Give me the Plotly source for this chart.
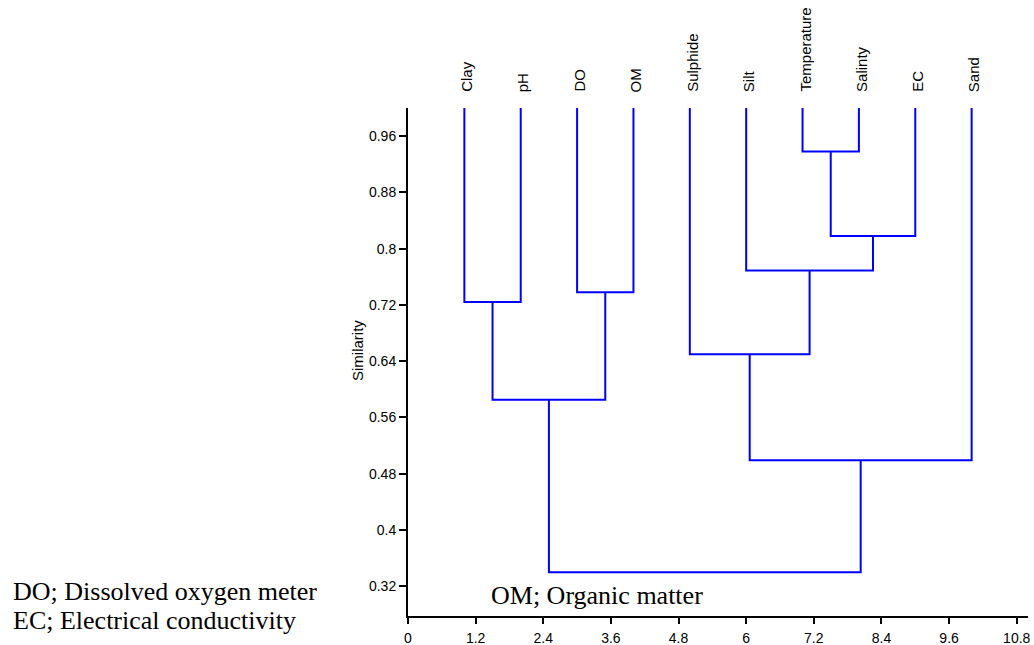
import plotly.graph_objects as go

# Variables (leaves of the dendrogram, left to right)
leaf_names = ["Clay", "pH", "DO", "OM", "Sulphide", "Silt",
              "Temperature", "Salinty", "EC", "Sand"]
leaf_pos = [1, 2, 3, 4, 5, 6, 7, 8, 9, 10]
leaf_top = 1.0

# Agglomeration steps: (left node, right node, similarity at join)
# node ids 0..9 are leaves, new clusters get ids 10, 11, ...
merges = [
    (6, 7, 0.938),    # 10: Temperature + Salinty
    (0, 1, 0.724),    # 11: Clay + pH
    (2, 3, 0.738),    # 12: DO + OM
    (10, 8, 0.818),   # 13: (Temp, Sal) + EC
    (5, 13, 0.769),   # 14: Silt + 13
    (4, 14, 0.650),   # 15: Sulphide + 14
    (11, 12, 0.585),  # 16: 11 + 12
    (15, 9, 0.499),   # 17: 15 + Sand
    (16, 17, 0.340),  # 18: root
]

x_ticks = [0, 1.2, 2.4, 3.6, 4.8, 6, 7.2, 8.4, 9.6, 10.8]
x_labels = ["0", "1.2", "2.4", "3.6", "4.8", "6", "7.2", "8.4", "9.6", "10.8"]
y_ticks = [0.32, 0.40, 0.48, 0.56, 0.64, 0.72, 0.80, 0.88, 0.96]
y_labels = ["0.32", "0.4", "0.48", "0.56", "0.64", "0.72", "0.8", "0.88", "0.96"]

# node coordinates: x = mean of children x, y = join similarity
node_x = list(leaf_pos)
node_y = [leaf_top] * len(leaf_pos)
xs, ys = [], []
for a, b, h in merges:
    xa, ya = node_x[a], node_y[a]
    xb, yb = node_x[b], node_y[b]
    xs += [xa, xa, xb, xb, None]
    ys += [ya, h, h, yb, None]
    node_x.append((xa + xb) / 2)
    node_y.append(h)

W, H = 1034, 645
ML, MR, MT, MB = 408, 6, 108, 29
PW, PH = W - ML - MR, H - MT - MB


def px_to_paper(px, py):
    return (px - ML) / PW, (H - MB - py) / PH


fig = go.Figure()
fig.add_trace(go.Scatter(
    x=xs, y=ys, mode="lines",
    line=dict(color="#0000FF", width=2),
    hoverinfo="skip", showlegend=False,
))

sans = "Liberation Sans, Arial, sans-serif"
serif = "Liberation Serif, Times New Roman, serif"

annotations = []
_, label_y = px_to_paper(0, 94)
for name, pos in zip(leaf_names, leaf_pos):
    annotations.append(dict(
        x=pos, xref="x", y=label_y, yref="paper", text=name,
        textangle=-90, xanchor="center", yanchor="bottom", xshift=2,
        showarrow=False, font=dict(family=sans, size=15, color="black"),
    ))

sx, sy = px_to_paper(357, 351)
annotations.append(dict(
    x=sx, y=sy, xref="paper", yref="paper", text="Similarity",
    textangle=-90, xanchor="center", yanchor="middle", showarrow=False,
    font=dict(family=sans, size=15, color="black"),
))

# abbreviation notes; compact boxes so the two stacked lines sit close
for txt, (px, py) in [("DO; Dissolved oxygen meter", (12, 593.3)),
                      ("EC; Electrical conductivity", (12, 622.3)),
                      ("OM; Organic matter", (490, 597))]:
    ax, ay = px_to_paper(px, py)
    annotations.append(dict(
        x=ax, y=ay, xref="paper", yref="paper", text=txt,
        xanchor="left", yanchor="middle", showarrow=False,
        height=25, valign="bottom", borderpad=0,
        font=dict(family=serif, size=26, color="black"),
    ))

fig.update_layout(
    width=W, height=H,
    margin=dict(l=ML, r=MR, t=MT, b=MB, autoexpand=False),
    paper_bgcolor="white", plot_bgcolor="white",
    annotations=annotations,
    xaxis=dict(
        range=[0, 11.0], tickvals=x_ticks, ticktext=x_labels,
        showgrid=False, zeroline=False, showline=True,
        linecolor="black", linewidth=2, automargin=False,
        ticks="outside", ticklen=6, tickwidth=2, tickcolor="black",
        ticklabelstandoff=2,
        tickfont=dict(family=sans, size=14, color="black"),
    ),
    yaxis=dict(
        range=[0.2777, 1.0], tickvals=y_ticks, ticktext=y_labels,
        showgrid=False, zeroline=False, showline=True,
        linecolor="black", linewidth=2, automargin=False,
        ticks="outside", ticklen=7, tickwidth=2, tickcolor="black",
        tickfont=dict(family=sans, size=14, color="black"),
    ),
)

fig.write_html("out.html")
